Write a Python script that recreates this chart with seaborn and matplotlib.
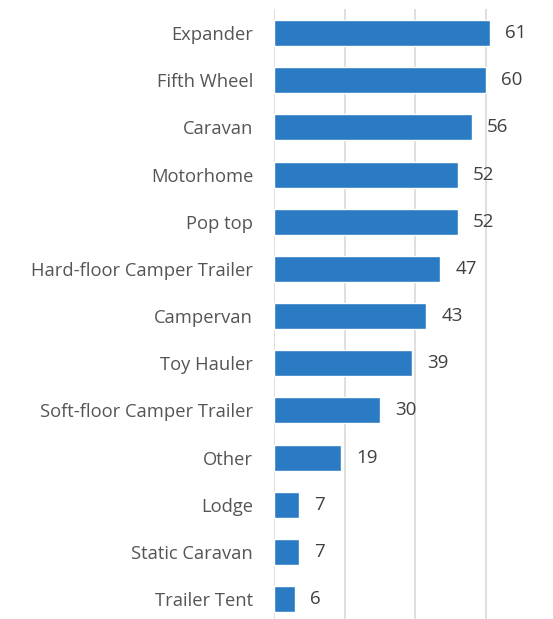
import matplotlib
matplotlib.use("Agg")
import matplotlib.pyplot as plt
import seaborn as sns
import pandas as pd

# data
categories = ["Expander", "Fifth Wheel", "Caravan", "Motorhome", "Pop top",
              "Hard-floor Camper Trailer", "Campervan", "Toy Hauler",
              "Soft-floor Camper Trailer", "Other", "Lodge", "Static Caravan",
              "Trailer Tent"]
values = [61, 60, 56, 52, 52, 47, 43, 39, 30, 19, 7, 7, 6]

sns.set_theme(style="white")
plt.rcParams['font.family'] = ['Open Sans', 'DejaVu Sans']

df = pd.DataFrame({"category": categories, "value": values})

fig = plt.figure(figsize=(5.53, 6.19), dpi=100)
ax = fig.add_axes([0.4955, -0.006, 0.4986, 0.9908])

sns.barplot(data=df, x="value", y="category", color="#2b7bc4",
            width=0.55, saturation=1, ax=ax, zorder=3)

ax.set_xlim(0, 78)
ax.set_ylim(12.5, -0.5)
ax.set_xticks([0, 20, 40, 60])
ax.xaxis.grid(True, color="#d9d9d9", linewidth=1.2, zorder=0)
ax.set_axisbelow(True)
ax.tick_params(axis="x", bottom=False, labelbottom=False)
ax.tick_params(axis="y", left=False, length=0, pad=15, labelsize=13.2,
               labelcolor="#555555")
for s in ax.spines.values():
    s.set_visible(False)
ax.set_xlabel("")
ax.set_ylabel("")

labels = ax.bar_label(ax.containers[0], padding=11, fontsize=13.5, color="#404040")
for t in labels:
    t.set_va("center")
    t.set_y(t.get_position()[1])

fig.savefig("out.png", dpi=100)
